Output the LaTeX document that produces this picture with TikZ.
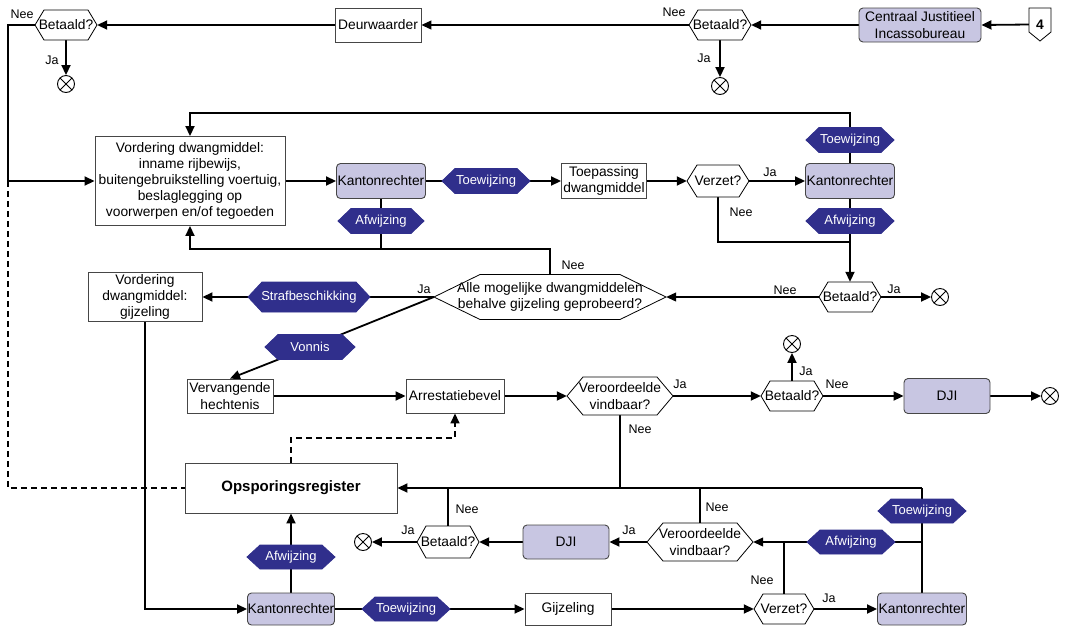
\documentclass[tikz,border=0pt]{standalone}
\usepackage{fontspec}
\setmainfont{Liberation Sans}
\usetikzlibrary{arrows.meta,calc}
\definecolor{lav}{RGB}{200,198,226}
\definecolor{navy}{RGB}{48,47,140}
\definecolor{bord}{RGB}{70,70,70}
\pgfdeclarelayer{bg}\pgfsetlayers{bg,main}
\newcommand\mfont{\fontsize{13.8}{16.2}\selectfont}
\newcommand\lfont{\fontsize{12.5}{14}\selectfont}
\newcommand\bfont{\fontsize{13}{15}\selectfont}
% name, cx, cy, half width, half height, slant depth, shape style, text style, text
\newcommand\hexnode[9]{%
  \path[#7] ({#2-#4},#3) -- ({#2-#4+#6},{#3-#5}) -- ({#2+#4-#6},{#3-#5}) -- ({#2+#4},#3) -- ({#2+#4-#6},{#3+#5}) -- ({#2-#4+#6},{#3+#5}) -- cycle;
  \node[#8, minimum width={2*#4pt}, minimum height={2*#5pt}] (#1) at (#2,#3) {#9};}
\tikzset{
  box/.style={draw=bord, line width=0.9pt, fill=white, font=\mfont, align=center, inner sep=1pt},
  lbox/.style={box, fill=lav, rounded corners=4pt},
  dec/.style={draw=black, line width=0.8pt, fill=white},
  dectxt/.style={font=\mfont, align=center, inner sep=0pt},
  blu/.style={draw=navy, line width=0.8pt, fill=navy},
  blutxt/.style={font=\bfont, text=white, inner sep=0pt},
  lbl/.style={font=\lfont, inner sep=0pt},
  endn/.style={circle, draw, line width=0.9pt, fill=white, minimum size=17pt, inner sep=0pt,
    path picture={\draw[line width=0.9pt] (path picture bounding box.north west) -- (path picture bounding box.south east)
      (path picture bounding box.south west) -- (path picture bounding box.north east);}},
  thk/.style={line width=1.8pt},
  thn/.style={line width=1.1pt},
  arr/.style={-{Triangle[length=10pt,width=9pt]}},
  dsh/.style={line width=1.6pt, dash pattern=on 6pt off 4pt},
}
\begin{document}
\begin{tikzpicture}[x=1pt,y=-1pt]
\useasboundingbox (0,0) rectangle (1074,625);

% ---------- top row ----------
\hexnode{bet1}{66}{25}{31}{15}{9}{dec}{dectxt}{Betaald?}
\node[endn] (end1) at (66,84) {};
\node[box, minimum width=86pt, minimum height=34pt] (deur) at (378,25) {Deurwaarder};
\hexnode{bet2}{720}{25}{31}{15}{9}{dec}{dectxt}{Betaald?}
\node[endn] (end2) at (720,86) {};
\node[lbox, minimum width=122pt, minimum height=34pt] (cjib) at (920,25) {Centraal Justitieel\\Incassobureau};
\path[dec] (1029,8) -- (1051,8) -- (1051,32) -- (1040,41) -- (1029,32) -- cycle;
\node[font=\mfont\bfseries, minimum width=22pt, minimum height=33pt, inner sep=0pt] (four) at (1040,24.5) {4};

% ---------- second row ----------
\node[box, minimum width=190pt, minimum height=89pt] (vord1) at (190,181)
  {Vordering dwangmiddel:\\inname rijbewijs,\\buitengebruikstelling voertuig,\\beslaglegging op\\voorwerpen en/of tegoeden};
\node[lbox, minimum width=89pt, minimum height=35pt, inner sep=0pt] (kr1) at (381,181) {Kantonrechter};
\hexnode{toe1}{486}{181}{44}{12.5}{13}{blu}{blutxt}{Toewijzing}
\hexnode{afw1}{381}{221}{43}{12.5}{13}{blu}{blutxt}{Afwijzing}
\node[box, minimum width=85pt, minimum height=35pt] (toep) at (604,181) {Toepassing\\dwangmiddel};
\hexnode{verz1}{718}{181}{31}{16}{10}{dec}{dectxt}{Verzet?}
\node[lbox, minimum width=89pt, minimum height=35pt, inner sep=0pt] (kr2) at (850,181) {Kantonrechter};
\hexnode{toe2}{850}{140}{44}{12.5}{13}{blu}{blutxt}{Toewijzing}
\hexnode{afw2}{850}{221}{44}{12.5}{13}{blu}{blutxt}{Afwijzing}

% ---------- third row ----------
\hexnode{bet3}{850}{297}{31}{15}{9}{dec}{dectxt}{Betaald?}
\node[endn] (end3) at (940,297) {};
\hexnode{alle}{550}{297}{116}{22.5}{46}{dec}{dectxt}{Alle mogelijke dwangmiddelen\\behalve gijzeling geprobeerd?}
\hexnode{straf}{309}{297}{61}{15}{14}{blu}{blutxt}{Strafbeschikking}
\node[box, minimum width=114pt, minimum height=49pt] (vordg) at (145,297) {Vordering\\dwangmiddel:\\gijzeling};
\hexnode{vonnis}{310}{347}{45}{12.5}{13}{blu}{blutxt}{Vonnis}

% ---------- fourth row ----------
\node[box, minimum width=86pt, minimum height=34pt] (verv) at (230,396) {Vervangende\\hechtenis};
\node[box, minimum width=98pt, minimum height=34pt] (arrest) at (455,396) {Arrestatiebevel};
\hexnode{veroo1}{620}{396}{53}{19}{16}{dec}{dectxt}{Veroordeelde\\vindbaar?}
\hexnode{bet4}{792}{396}{31}{15}{9}{dec}{dectxt}{Betaald?}
\node[endn] (end4) at (792,344) {};
\node[lbox, minimum width=86pt, minimum height=35pt] (dji1) at (947,396) {DJI};
\node[endn] (end5) at (1050,396) {};

% ---------- fifth rows ----------
\node[box, minimum width=212pt, minimum height=50pt, font=\fontsize{15}{18}\selectfont\bfseries] (ops) at (291,488) {Opsporingsregister};
\hexnode{bet5}{448}{542}{31}{16}{9}{dec}{dectxt}{Betaald?}
\node[endn] (end6) at (363,542) {};
\node[lbox, minimum width=86pt, minimum height=34pt] (dji2) at (566,542) {DJI};
\hexnode{veroo2}{700}{542}{53}{19}{16}{dec}{dectxt}{Veroordeelde\\vindbaar?}
\hexnode{afw3}{851}{542}{44}{12}{13}{blu}{blutxt}{Afwijzing}
\hexnode{toe3}{922}{511}{44}{12}{13}{blu}{blutxt}{Toewijzing}
\hexnode{afw4}{291}{557}{44}{12}{13}{blu}{blutxt}{Afwijzing}
\node[lbox, minimum width=87pt, minimum height=32pt, inner sep=0pt] (kr3) at (291,609) {Kantonrechter};
\hexnode{toe4}{406}{609}{44}{12}{13}{blu}{blutxt}{Toewijzing}
\node[box, minimum width=86pt, minimum height=32pt] (gijz) at (568,609) {Gijzeling};
\hexnode{verz2}{784}{609}{30}{15}{9}{dec}{dectxt}{Verzet?}
\node[lbox, minimum width=89pt, minimum height=32pt, inner sep=0pt] (kr4) at (922,609) {Kantonrechter};

% ---------- helper coordinates ----------
\coordinate (lftop) at (8,25);
\coordinate (lft) at (8,181);
\coordinate (lfbot) at (8,488);
\coordinate (top1) at (850,113);
\coordinate (kj) at (850,242);
\coordinate (b249) at (190,249);
\coordinate (d1) at (291,438);
\coordinate (r488) at (922,488);
\coordinate (r542) at (922,542);

% ---------- connectors ----------
\begin{pgfonlayer}{bg}
\draw[thk,arr] (four.west) -- (cjib.east);
\draw[thk,arr] (cjib.west) -- (bet2.east);
\draw[thn,arr] (bet2.west) -- (deur.east);
\draw[thk,arr] (bet2.south) -- (end2.north);
\draw[thk,arr] (deur.west) -- (bet1.east);
\draw[thk,arr] (bet1.south) -- (end1.north);
\draw[thk,arr] (bet1.west) -- (lftop) -- (lft) -- (vord1.west);
\draw[dsh] (lft) -- (lfbot) -- (ops.west);

\draw[thk,arr] (vord1.east) -- (kr1.west);
\draw[thk,arr] (kr1.east) -- (toep.west);
\draw[thk,arr] (toep.east) -- (verz1.west);
\draw[thk,arr] (verz1.east) -- (kr2.west);
\draw[thk,arr] (kr2.north) -- (top1) -| (vord1.north);
\draw[thk,arr] (kr2.south) -- (bet3.north);
\draw[thn] (verz1.south) |- (kj);
\draw[thk,arr] (bet3.east) -- (end3.west);
\draw[thn,arr] (bet3.west) -- (alle.east);
\draw[thk] (kr1.south) -- (kr1.south |- b249);
\draw[thk,arr] (alle.north) |- (b249) -- (vord1.south);

\draw[thk,arr] (alle.west) -- (vordg.east);
\draw[thk] (alle.west) -- (vonnis.center);
\draw[thk,arr] (vonnis.center) -- (verv.north);

\draw[thk,arr] (verv.east) -- (arrest.west);
\draw[thk,arr] (arrest.east) -- (veroo1.west);
\draw[thk,arr] (veroo1.east) -- (bet4.west);
\draw[thk,arr] (bet4.north) -- (end4.south);
\draw[thk,arr] (bet4.east) -- (dji1.west);
\draw[thk,arr] (dji1.east) -- (end5.west);
\draw[thk] (veroo1.south) -- (veroo1.south |- ops.east);
\draw[dsh,arr] (ops.north) -- (d1) -| (arrest.south);

\draw[thk] (kr4.north) -- (r488);
\draw[thn] (r488) -- (veroo2.north |- r488);
\draw[thk,arr] (veroo2.north |- r488) -- (ops.east);
\draw[thk] (veroo2.north) -- (veroo2.north |- r488);
\draw[thk] (bet5.north) -- (bet5.north |- r488);
\draw[thn,arr] (r542) -- (veroo2.east);
\draw[thn] (verz2.north) -- (verz2.north |- r542);
\draw[thk,arr] (veroo2.west) -- (dji2.east);
\draw[thk,arr] (dji2.west) -- (bet5.east);
\draw[thk,arr] (bet5.west) -- (end6.east);

\draw[thk,arr] (vordg.south) |- (kr3.west);
\draw[thk,arr] (kr3.east) -- (gijz.west);
\draw[thk,arr] (gijz.east) -- (verz2.west);
\draw[thk,arr] (verz2.east) -- (kr4.west);
\draw[thk,arr] (kr3.north) -- (ops.south);
\end{pgfonlayer}

% ---------- labels ----------
\node[lbl] (n1) at (22,14) {Nee};
\node[lbl] (j1) at (52,60) {Ja};
\node[lbl] (n2) at (674,12) {Nee};
\node[lbl] (j2) at (704,58) {Ja};
\node[lbl] (j3) at (770,172) {Ja};
\node[lbl] (n3) at (741,212) {Nee};
\node[lbl] (n4) at (573,265) {Nee};
\node[lbl] (j4) at (424,289) {Ja};
\node[lbl] (n5) at (785,290) {Nee};
\node[lbl] (j5) at (894,289) {Ja};
\node[lbl] (j6) at (680,384) {Ja};
\node[lbl] (j7) at (806,371) {Ja};
\node[lbl] (n6) at (837,384) {Nee};
\node[lbl] (n7) at (640,429) {Nee};
\node[lbl] (n8) at (467,509) {Nee};
\node[lbl] (j8) at (408,530) {Ja};
\node[lbl] (n9) at (717,507) {Nee};
\node[lbl] (j9) at (629,530) {Ja};
\node[lbl] (n10) at (762,580) {Nee};
\node[lbl] (j10) at (829,598) {Ja};
\end{tikzpicture}
\end{document}
